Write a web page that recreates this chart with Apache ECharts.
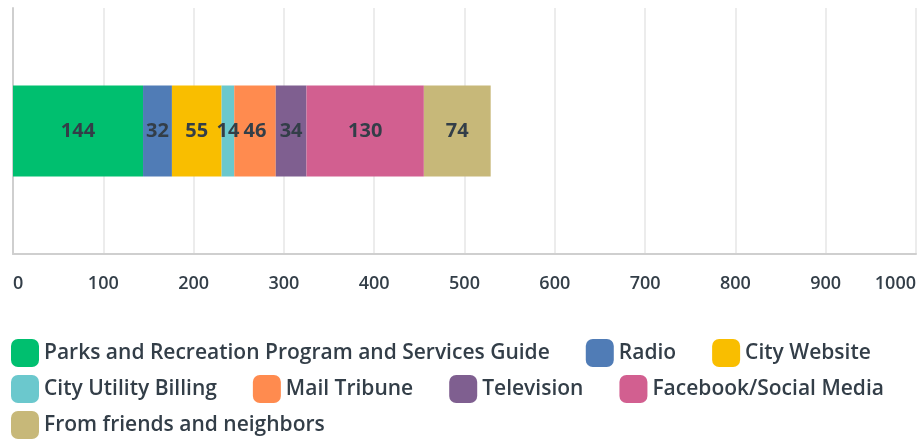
<!DOCTYPE html>
<html>
<head>
<meta charset="utf-8">
<script src="https://cdn.jsdelivr.net/npm/echarts@6/dist/echarts.min.js"></script>
<style>
  html, body { margin: 0; padding: 0; background: #fff; }
  #main { width: 919px; height: 441px; }
</style>
</head>
<body>
<div id="main"></div>
<script>
  // answer options, in stack order
  var sources = [
    'Parks and Recreation Program and Services Guide',
    'Radio',
    'City Website',
    'City Utility Billing',
    'Mail Tribune',
    'Television',
    'Facebook/Social Media',
    'From friends and neighbors'
  ];
  var counts = [144, 32, 55, 14, 46, 34, 130, 74];
  var colors = ['#00bf6f', '#507cb6', '#f9be00', '#6bc8cd', '#ff8b4f', '#7f5f90', '#d25f90', '#c7b879'];
  var category = [''];
  // how the legend wraps in the original
  var legendRows = [
    ['Parks and Recreation Program and Services Guide', 'Radio', 'City Website'],
    ['City Utility Billing', 'Mail Tribune', 'Television', 'Facebook/Social Media'],
    ['From friends and neighbors']
  ];

  var textColor = '#333e48';
  var fontName = '"Open Sans", sans-serif';

  var myChart = echarts.init(document.getElementById('main'));

  var series = [];
  for (let i = 0; i < sources.length; i++) {
    series.push({
      name: sources[i],
      type: 'bar',
      stack: 'total',
      barWidth: 91,
      itemStyle: { color: colors[i] },
      label: {
        show: true,
        position: 'inside',
        color: textColor,
        fontFamily: fontName,
        fontSize: 20,
        fontWeight: 700,
        textShadowColor: '#fff',
        textShadowOffsetX: 1.5,
        textShadowOffsetY: 1.5,
        textShadowBlur: 0
      },
      data: [counts[i]]
    });
  }

  var legends = [];
  for (let r = 0; r < legendRows.length; r++) {
    legends.push({
      left: 11,
      top: 339 + r * 36,
      padding: 0,
      itemWidth: 28,
      itemHeight: 28,
      itemGap: 36,
      icon: 'roundRect',
      textStyle: { color: textColor, fontSize: 21, fontWeight: 600, fontFamily: fontName },
      data: legendRows[r]
    });
  }

  var option = {
    animation: false,
    color: colors,
    grid: { left: 13, right: 2, top: 8, bottom: 187 },
    legend: legends,
    xAxis: {
      type: 'value',
      min: 0,
      max: 1000,
      interval: 100,
      axisLine: { show: true, lineStyle: { color: '#cfcfcf', width: 2 } },
      axisTick: { show: false },
      splitLine: { lineStyle: { color: '#ececec', width: 2 } },
      axisLabel: {
        color: textColor,
        fontSize: 18,
        fontWeight: 600,
        fontFamily: fontName,
        margin: 21,
        formatter: function (v) { return String(v); },
        alignMinLabel: 'left',
        alignMaxLabel: 'right'
      }
    },
    yAxis: {
      type: 'category',
      data: category,
      axisLine: { show: true, lineStyle: { color: '#cfcfcf', width: 2 } },
      axisTick: { show: false },
      axisLabel: { show: false }
    },
    series: series
  };
  myChart.setOption(option);
</script>
</body>
</html>
